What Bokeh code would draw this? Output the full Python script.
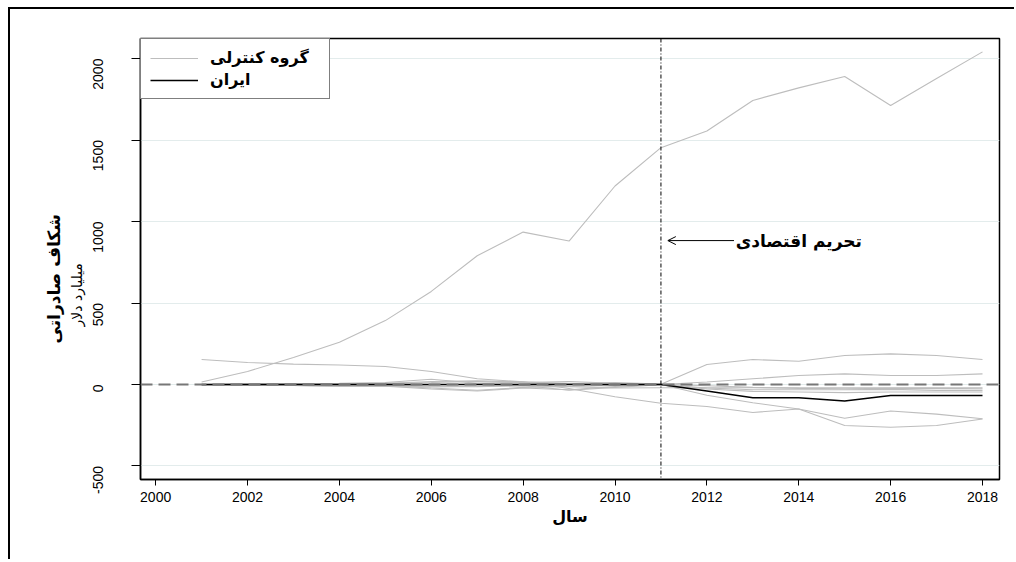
import math
from bokeh.plotting import figure
from bokeh.models import (Span, Label, Arrow, OpenHead, Legend, LegendItem,
                          FixedTicker, Title, PrintfTickFormatter)
from bokeh.embed import file_html
from bokeh.resources import INLINE

# ---------------- data ----------------
years = list(range(2001, 2019))
iran = [0, 0, 0, 0, 0, 0, 0, 0, 0, 0, 0, -40, -82, -82, -102, -67, -67, -67]
ctrl_big = [15, 80, 165, 259, 392, 571, 790, 935, 880, 1218, 1453, 1555, 1743, 1820, 1890, 1712, 1878, 2041]
ctrl_a = [153, 135, 125, 120, 110, 80, 35, 16, -25, -75, -115, -135, -172, -150, -252, -262, -252, -212]
ctrl_c = [0, 3, 5, 8, 12, 32, 8, 12, 18, 8, 2, 123, 153, 143, 178, 188, 178, 153]
ctrl_d = [0, 2, 3, 5, 8, 12, 18, 10, 6, 4, 0, 15, 35, 55, 65, 55, 55, 65]
ctrl_e = [0, -3, -6, -10, -8, -22, -35, -18, -12, -6, 0, -66, -112, -150, -207, -163, -182, -210]
ctrl_f = [0, -4, -6, -12, -10, -28, -40, -22, -32, -12, 0, -22, -32, -32, -32, -30, -36, -36]
ctrl_g = [0, 0, -3, -5, -6, -15, -12, -6, -35, -18, -2, -28, -42, -46, -50, -46, -46, -46]
ctrl_h = [0, 2, 4, 2, 6, 18, 22, 16, 6, 12, 2, -8, -18, -24, -26, -24, -24, -26]
ctrl_i = [-5, -4, -4, -6, -6, -10, -14, -8, -14, -22, -20, -20, -20, -20, -20, -20, -20, -20]
controls = [ctrl_big, ctrl_a, ctrl_c, ctrl_d, ctrl_e, ctrl_f, ctrl_g, ctrl_h, ctrl_i]

x_ticks = list(range(2000, 2019, 2))
y_ticks = [-500, 0, 500, 1000, 1500, 2000]
treatment_year = 2011

legend_control = "گروه کنترلی"
legend_iran = "ایران"
y_title = "شکاف صادراتی"
y_subtitle = "میلیارد دلار"
x_title = "سال"
note_text = "تحریم اقتصادی"

FA_FONT = "DejaVu Sans"
NUM_FONT = "Liberation Sans"

# ---------------- figure ----------------
p = figure(width=1006, height=552, output_backend="svg", toolbar_location=None,
           x_range=(1999.67, 2018.37), y_range=(-583, 2123),
           min_border_left=130, min_border_right=17, min_border_top=29, min_border_bottom=82)
p.styles = {"border-left": "2px solid black", "border-top": "2px solid black",
            "margin-left": "8px", "margin-top": "7px"}

p.background_fill_color = "white"
p.border_fill_color = "white"
p.outline_line_color = "black"
p.outline_line_width = 1.5

p.xgrid.visible = False
p.ygrid.grid_line_color = "#e3ecec"
p.ygrid.grid_line_width = 1

# axes
p.xaxis.ticker = FixedTicker(ticks=x_ticks)
p.yaxis.ticker = FixedTicker(ticks=y_ticks)
p.yaxis.formatter = PrintfTickFormatter(format="%d")
for ax in (p.xaxis, p.yaxis):
    ax.axis_line_color = "black"
    ax.axis_line_width = 1.5
    ax.major_tick_line_color = "black"
    ax.major_tick_in = 0
    ax.minor_tick_line_color = None
    ax.major_label_text_font = NUM_FONT
    ax.major_label_text_font_size = "14px"
    ax.major_label_text_color = "black"
p.xaxis.major_tick_out = 6
p.xaxis.major_label_standoff = 6
p.yaxis.major_tick_out = 9
p.yaxis.major_label_orientation = math.pi / 2
p.yaxis.major_label_standoff = 33

p.xaxis.axis_label = x_title
p.xaxis.axis_label_text_font = FA_FONT
p.xaxis.axis_label_text_font_style = "bold"
p.xaxis.axis_label_text_font_size = "16px"
p.xaxis.axis_label_text_color = "black"
p.xaxis.axis_label_standoff = 2

# lines
ctrl_renderers = []
for s in controls:
    r = p.line(years, s, line_color="#bdbdbd", line_width=1.1)
    ctrl_renderers.append(r)
r_iran = p.line(years, iran, line_color="black", line_width=1.5)

# reference lines
p.add_layout(Span(location=0, dimension="width", line_color="#777777",
                  line_width=1.8, line_dash="12 6"))
p.add_layout(Span(location=treatment_year, dimension="height", line_color="black",
                  line_width=1, line_dash="4 2 1 2"))

# annotation
p.add_layout(Label(x=2014.0, y=883, text=note_text, text_font=FA_FONT,
                   text_font_style="bold", text_font_size="17px",
                   text_align="center", text_baseline="middle", text_color="black"))
p.add_layout(Arrow(end=OpenHead(size=8, line_width=1, line_color="black"),
                   x_start=2012.59, y_start=883, x_end=2011.15, y_end=883,
                   line_width=1, line_color="black"))

# y-axis titles (left-side titles, bottom-anchored with offset)
p.add_layout(Title(text=y_subtitle, align="left", offset=153, standoff=2,
                   text_font=FA_FONT, text_font_size="14px",
                   text_font_style="normal", text_color="black"), "left")
p.add_layout(Title(text=y_title, align="left", offset=136, standoff=3,
                   text_font=FA_FONT, text_font_size="17px",
                   text_font_style="bold", text_color="black"), "left")

# legend
legend = Legend(items=[LegendItem(label=legend_control, renderers=[ctrl_renderers[0]]),
                       LegendItem(label=legend_iran, renderers=[r_iran])],
                location="top_left", margin=0, padding=9, spacing=3,
                glyph_width=48, glyph_height=18, label_standoff=12, label_width=110,
                label_text_font=FA_FONT, label_text_font_style="bold",
                label_text_font_size="16px", label_height=18, label_text_color="black",
                border_line_color="black", border_line_width=1,
                background_fill_color="white", background_fill_alpha=1)
p.add_layout(legend)

open("out.html", "w").write(file_html(p, INLINE))
